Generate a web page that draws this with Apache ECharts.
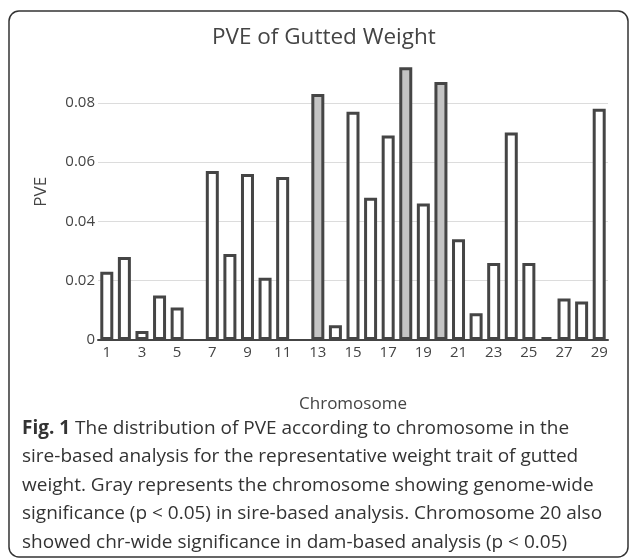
<!DOCTYPE html>
<html>
<head>
<meta charset="utf-8">
<script src="https://cdn.jsdelivr.net/npm/echarts@6/dist/echarts.min.js"></script>
<style>
html,body{margin:0;padding:0;background:#fff;}
#chart{width:629px;height:558px;}
</style>
</head>
<body>
<div id="chart"></div>
<script>
// Data
var chromosomes = ['1','2','3','4','5','6','7','8','9','10','11','12','13','14','15','16','17','18','19','20','21','22','23','24','25','26','27','28','29'];
var pve = [0.023,0.028,0.003,0.015,0.011,null,0.057,0.029,0.056,0.021,0.055,null,0.083,0.005,0.077,0.048,0.069,0.092,0.046,0.087,0.034,0.009,0.026,0.070,0.026,0.001,0.014,0.013,0.078];
var significant = ['13','18','20'];
var yTicks = [0, 0.02, 0.04, 0.06, 0.08];
var titleText = 'PVE of Gutted Weight';
var xName = 'Chromosome';
var yName = 'PVE';
var captionLines = [
  ['Fig. 1', ' The distribution of PVE according to chromosome in the'],
  ['', 'sire-based analysis for the representative weight trait of gutted'],
  ['', 'weight. Gray represents the chromosome showing genome-wide'],
  ['', 'significance (p < 0.05) in sire-based analysis. Chromosome 20 also'],
  ['', 'showed chr-wide significance in dam-based analysis (p < 0.05)']
];

var FONT = '"Open Sans", "Noto Sans", sans-serif';
var TXT = '#444';

var barData = pve.map(function (v, i) {
  var sig = significant.indexOf(chromosomes[i]) >= 0;
  return {
    value: v === null ? '-' : v,
    itemStyle: { color: sig ? '#c4c4c4' : '#ffffff' }
  };
});

var captionText = captionLines.map(function (l) {
  return (l[0] ? '{b|' + l[0] + '}' : '') + '{r|' + l[1] + '}';
}).join('\n');

var chart = echarts.init(document.getElementById('chart'), null, { renderer: 'canvas' });
chart.setOption({
  animation: false,
  backgroundColor: '#fff',
  textStyle: { fontFamily: FONT },
  title: {
    text: titleText,
    left: 207,
    top: 21,
    textStyle: { fontFamily: FONT, fontSize: 22.5, fontWeight: 'normal', color: TXT }
  },
  grid: { left: 98, right: 21, top: 43.5, bottom: 218, containLabel: false },
  xAxis: {
    type: 'category',
    data: chromosomes,
    name: xName,
    nameLocation: 'middle',
    nameGap: 56,
    nameTextStyle: { fontFamily: FONT, fontSize: 17, color: TXT },
    axisLine: { show: true, lineStyle: { color: '#444', width: 2 } },
    axisTick: { show: false },
    axisLabel: { interval: 1, margin: 5, fontFamily: FONT, fontSize: 15, color: TXT },
    splitLine: { show: false }
  },
  yAxis: {
    type: 'value',
    min: 0,
    max: 0.1,
    interval: 0.02,
    name: yName,
    nameLocation: 'middle',
    nameGap: 48,
    nameTextStyle: { fontFamily: FONT, fontSize: 17, color: TXT },
    axisLine: { show: false },
    axisTick: { show: false },
    axisLabel: {
      margin: 3, fontFamily: FONT, fontSize: 15, color: TXT, showMaxLabel: false,
      formatter: function (v) {
        for (var i = 0; i < yTicks.length; i++) {
          if (Math.abs(v - yTicks[i]) < 1e-9) return v === 0 ? '0' : String(yTicks[i]);
        }
        return '';
      }
    },
    splitLine: { show: true, showMaxLine: false, lineStyle: { color: '#dcdcdc', width: 1 } }
  },
  series: [{
    type: 'bar',
    data: barData,
    barWidth: 13,
    itemStyle: { borderColor: '#454545', borderWidth: 3 }
  }],
  graphic: [
    {
      type: 'rect',
      silent: true,
      shape: { x: 9, y: 11, width: 619, height: 546, r: 10 },
      style: { fill: null, stroke: '#333', lineWidth: 1.5 }
    },
    {
      type: 'text',
      left: 22,
      top: 414,
      style: {
        text: captionText,
        font: '19px ' + FONT,
        fill: '#333',
        lineHeight: 28.5,
        rich: {
          b: { font: 'bold 19px ' + FONT, fill: '#333', lineHeight: 28.5 },
          r: { font: '19px ' + FONT, fill: '#333', lineHeight: 28.5 }
        }
      }
    }
  ]
});
</script>
</body>
</html>
